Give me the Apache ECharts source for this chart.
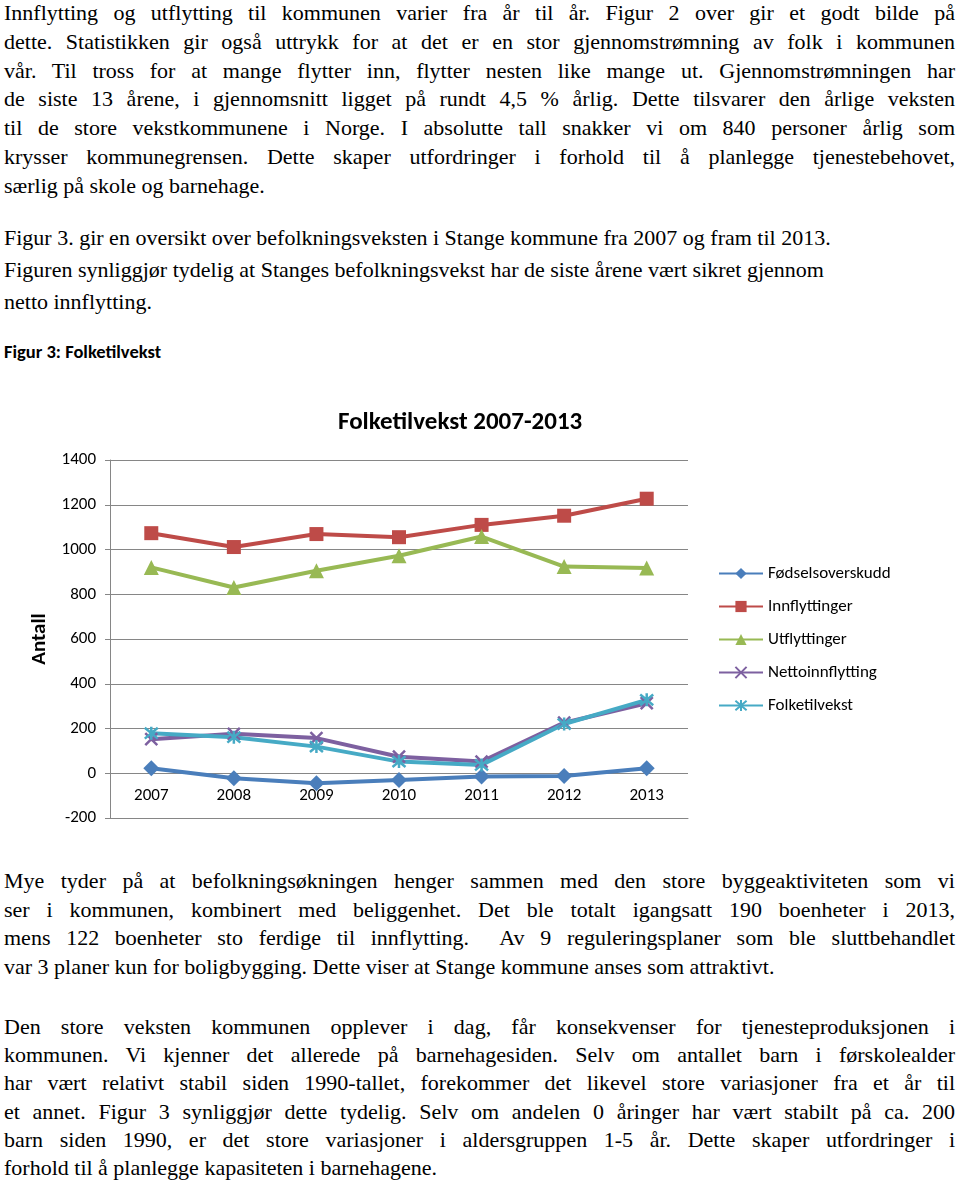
<!DOCTYPE html>
<html><head><meta charset="utf-8">
<script src="https://cdn.jsdelivr.net/npm/echarts@6/dist/echarts.min.js"></script>
<style>
body{margin:0;background:#fff;width:960px;height:1186px;position:relative;overflow:hidden}
.tx{position:absolute;left:4px;font-size:22px;color:#000}
.tx div{white-space:nowrap}
#cap{position:absolute;left:4px;top:341px;line-height:22px;font-weight:bold;font-size:18.5px;color:#000;white-space:nowrap}
#chart{position:absolute;left:0;top:380px;width:960px;height:460px}
</style></head><body>
<div class="tx" style="top:-1.1px;line-height:28.8px">
<div class="j">Innflytting og utflytting til kommunen varier fra år til år. Figur 2 over gir et godt bilde på</div>
<div class="j">dette. Statistikken gir også uttrykk for at det er en stor gjennomstrømning av folk i kommunen</div>
<div class="j">vår. Til tross for at mange flytter inn, flytter nesten like mange ut. Gjennomstrømningen har</div>
<div class="j">de siste 13 årene, i gjennomsnitt ligget på rundt 4,5 % årlig. Dette tilsvarer den årlige veksten</div>
<div class="j">til de store vekstkommunene i Norge. I absolutte tall snakker vi om 840 personer årlig som</div>
<div class="j">krysser kommunegrensen. Dette skaper utfordringer i forhold til å planlegge tjenestebehovet,</div>
<div>særlig på skole og barnehage.</div>
</div>
<div class="tx" style="top:221.6px;line-height:32px">
<div>Figur 3. gir en oversikt over befolkningsveksten i Stange kommune fra 2007 og fram til 2013.</div>
<div>Figuren synliggjør tydelig at Stanges befolkningsvekst har de siste årene vært sikret gjennom</div>
<div>netto innflytting.</div>
</div>
<div id="cap" style="font-family:Carlito">Figur 3: Folketilvekst</div>
<div id="chart"></div>
<div class="tx" style="top:867.3px;line-height:28.5px">
<div class="j">Mye tyder på at befolkningsøkningen henger sammen med den store byggeaktiviteten som vi</div>
<div class="j">ser i kommunen, kombinert med beliggenhet. Det ble totalt igangsatt 190 boenheter i 2013,</div>
<div class="j">mens 122 boenheter sto ferdige til innflytting.&nbsp; Av 9 reguleringsplaner som ble sluttbehandlet</div>
<div>var 3 planer kun for boligbygging. Dette viser at Stange kommune anses som attraktivt.</div>
</div>
<div class="tx" style="top:1012.7px;line-height:28.3px">
<div class="j">Den store veksten kommunen opplever i dag, får konsekvenser for tjenesteproduksjonen i</div>
<div class="j">kommunen. Vi kjenner det allerede på barnehagesiden. Selv om antallet barn i førskolealder</div>
<div class="j">har vært relativt stabil siden 1990-tallet, forekommer det likevel store variasjoner fra et år til</div>
<div class="j">et annet. Figur 3 synliggjør dette tydelig. Selv om andelen 0 åringer har vært stabilt på ca. 200</div>
<div class="j">barn siden 1990, er det store variasjoner i aldersgruppen 1-5 år. Dette skaper utfordringer i</div>
<div>forhold til å planlegge kapasiteten i barnehagene.</div>
</div>
<script>
// ---- chart data ----
const years = ['2007', '2008', '2009', '2010', '2011', '2012', '2013'];
const fodselsoverskudd = [22, -22, -45, -30, -15, -12, 22];
const innflyttinger = [1073, 1011, 1069, 1055, 1110, 1151, 1227];
const utflyttinger = [920, 830, 905, 972, 1058, 924, 917];
const nettoinnflytting = [152, 176, 157, 74, 52, 226, 313];
const folketilvekst = [179, 161, 119, 52, 37, 220, 328];
const seriesNames = ['Fødselsoverskudd', 'Innflyttinger', 'Utflyttinger', 'Nettoinnflytting', 'Folketilvekst'];
const yMin = -200, yMax = 1400, yStep = 200;
const chartTitle = 'Folketilvekst 2007-2013';
const yName = 'Antall';

// body text font + justify lines
document.querySelectorAll('.tx, .tx div').forEach(function (el) {
  el.style.setProperty('font-family', "'Liberation Serif', serif", 'important');
});
document.querySelectorAll('.j').forEach(function (el) {
  const target = 951;
  const r = document.createRange(); r.selectNodeContents(el);
  const nat = r.getBoundingClientRect().width;
  const spaces = (el.textContent.match(/[ \u00a0]/g) || []).length;
  if (spaces > 0) el.style.wordSpacing = ((target - nat) / spaces) + 'px';
});

const FF = 'Carlito';
const X_PATH = 'path://M0,0L10,10M10,0L0,10';
const AST_PATH = 'path://M0,0L10,10M10,0L0,10M5,-1L5,11';
function mk(name, data, color, symbol, size, stroke) {
  return {
    name: name, type: 'line', data: data, symbol: symbol, symbolSize: size,
    lineStyle: { color: color, width: 4 },
    itemStyle: stroke ? { color: color, borderColor: color, borderWidth: 2.5 } : { color: color, borderWidth: 0 },
    emphasis: { disabled: true }
  };
}
const chart = echarts.init(document.getElementById('chart'), null, { renderer: 'canvas' });
chart.setOption({
  animation: false,
  title: { text: chartTitle, left: 333, top: 25, textStyle: { fontFamily: FF, fontWeight: 'bold', fontSize: 25, color: '#000' } },
  grid: { left: 110, right: 272, top: 80, bottom: 22 },
  legend: {
    orient: 'vertical', left: 718, top: 185, itemWidth: 44, itemHeight: 14, itemGap: 16, padding: 0,
    textStyle: { fontFamily: FF, fontSize: 17, color: '#000' }, data: seriesNames
  },
  xAxis: {
    type: 'category', data: years, boundaryGap: true,
    axisLine: { onZero: false, lineStyle: { color: '#868686', width: 1 } },
    axisTick: { show: false },
    axisLabel: { inside: true, fontFamily: FF, fontSize: 17, color: '#000', margin: 14 }
  },
  yAxis: {
    type: 'value', min: yMin, max: yMax, interval: yStep,
    name: yName, nameLocation: 'middle', nameRotate: 90, nameGap: 52,
    nameTextStyle: { fontFamily: FF, fontWeight: 'bold', fontSize: 21, color: '#000' },
    axisLine: { show: true, lineStyle: { color: '#868686', width: 1 } },
    axisTick: { show: true, length: 5, lineStyle: { color: '#868686' } },
    splitLine: { lineStyle: { color: '#868686', width: 1 } },
    axisLabel: { fontFamily: FF, fontSize: 17, color: '#000', margin: 14, formatter: function (v) { return String(v); } }
  },
  series: [
    mk(seriesNames[0], fodselsoverskudd, '#4A7EBB', 'diamond', 16, false),
    mk(seriesNames[1], innflyttinger, '#BE4B48', 'rect', 14, false),
    mk(seriesNames[2], utflyttinger, '#98B954', 'triangle', 15, false),
    mk(seriesNames[3], nettoinnflytting, '#7D60A0', X_PATH, 12, true),
    mk(seriesNames[4], folketilvekst, '#46AAC5', AST_PATH, 13, true)
  ]
});
</script>
</body></html>
